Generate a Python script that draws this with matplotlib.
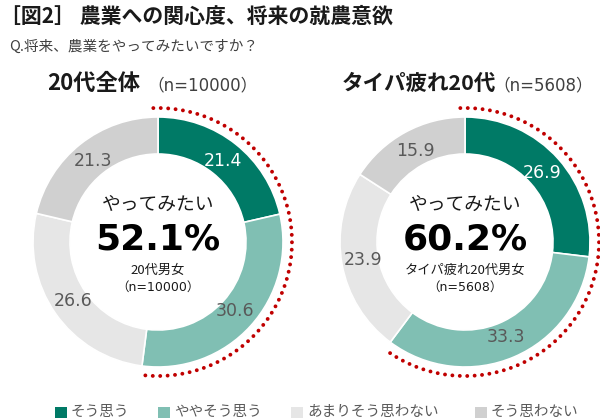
import numpy as np
import matplotlib
matplotlib.use('Agg')
from matplotlib import pyplot as plt

plt.rcParams['font.family'] = ['Noto Sans CJK JP', 'DejaVu Sans']
latin_first = ['DejaVu Sans', 'Noto Sans CJK JP']

# data
categories = ['そう思う', 'ややそう思う', 'あまりそう思わない', 'そう思わない']
colors = ['#007a66', '#80bfb3', '#e6e6e6', '#d0d0d0']
label_colors = ['white', '#595959', '#595959', '#595959']
groups = ['20代全体', 'タイパ疲れ20代']
group_n = ['（n=10000）', '（n=5608）']
group_sub = ['20代男女', 'タイパ疲れ20代男女']
values_all = [21.4, 30.6, 26.6, 21.3]
values_taipa = [26.9, 33.3, 23.9, 15.9]
want_pct = [52.1, 60.2]

W, H = 600, 420
fig = plt.figure(figsize=(6, 4.2), dpi=100)
ax = fig.add_axes([0, 0, 1, 1])

def Y(y):
    return H - y

centers = [(158, Y(242)), (465, Y(242))]
R = 125
ring = 37

for i, vals in enumerate([values_all, values_taipa]):
    cx, cy = centers[i]
    wedges, texts = ax.pie(vals, center=(cx, cy), radius=R, startangle=90,
                           counterclock=False, colors=colors,
                           wedgeprops=dict(width=ring, edgecolor='white', linewidth=1.2))
    # value labels in the ring
    acc = 0
    for v, c in zip(vals, label_colors):
        mid = np.deg2rad(90 - (acc + v / 2) * 3.6)
        rr = R - ring / 2 - 3
        ax.text(cx + rr * np.cos(mid), cy + rr * np.sin(mid), f'{v:.1f}',
                ha='center', va='center', fontsize=12.5, color=c, family='DejaVu Sans')
        acc += v
    # red dotted arc around the "want to" part
    a0 = -2
    a1 = want_pct[i] * 3.6 - 1.5
    th = np.deg2rad(90 - np.linspace(a0, a1, 200))
    ra = R + 9
    ax.plot(cx + ra * np.cos(th), cy + ra * np.sin(th), color='#c00000', lw=2.8,
            linestyle=(0, (0.01, 1.9)), dash_capstyle='round')
    # center texts
    ax.text(cx, Y(204), 'やってみたい', ha='center', va='center', fontsize=13.5, color='#1a1a1a')
    ax.text(cx, Y(240), f'{want_pct[i]:.1f}%', ha='center', va='center', fontsize=26,
            fontweight='bold', color='black', family='DejaVu Sans')
    ax.text(cx, Y(270), group_sub[i], ha='center', va='center', fontsize=9.5, color='#1a1a1a')
    ax.text(cx, Y(287), group_n[i], ha='center', va='center', fontsize=9, color='#1a1a1a',
            family=latin_first)

# titles
ax.text(0, Y(16), '［図2］ 農業への関心度、将来の就農意欲', ha='left', va='center',
        fontsize=15, fontweight='bold', color='#1a1a1a')
ax.text(9, Y(47), 'Q.将来、農業をやってみたいですか？', ha='left', va='center',
        fontsize=10.5, color='#404040')

hx = [47, 342]
for i in range(2):
    ax.text(hx[i], Y(83), groups[i], ha='left', va='center', fontsize=16 if i == 0 else 15.5,
            fontweight='bold', color='#1a1a1a')
nx = [147, 493]
for i in range(2):
    ax.text(nx[i], Y(85), group_n[i], ha='left', va='center', fontsize=12, color='#404040',
            family=latin_first)

# legend
lx = [55, 158, 291, 475]
for x, c, lab in zip(lx, colors, categories):
    ax.add_patch(plt.Rectangle((x, Y(418)), 12, 11, color=c, lw=0))
    ax.text(x + 16, Y(412), lab, ha='left', va='center', fontsize=10.5, color='#595959')

ax.set_xlim(0, W)
ax.set_ylim(0, H)
ax.set_aspect('auto')
ax.axis('off')

fig.savefig('out.png', dpi=100)
